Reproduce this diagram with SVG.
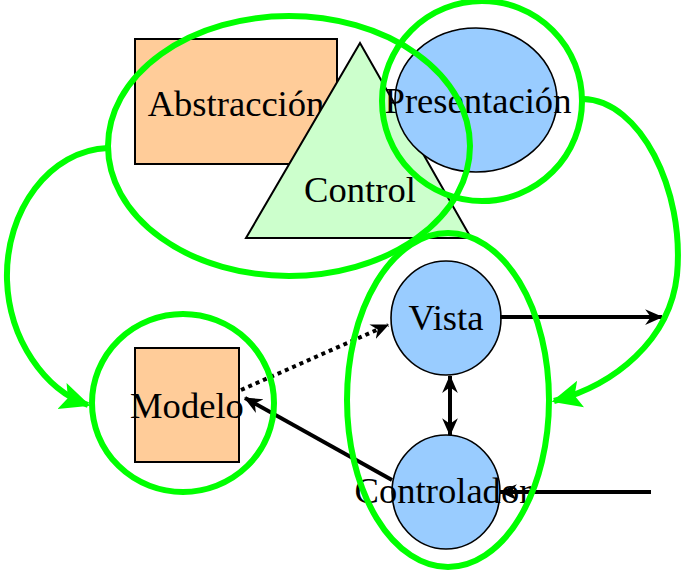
<svg xmlns="http://www.w3.org/2000/svg" width="684" height="573" viewBox="0 0 684 573">
<defs>
<style>
.lbl{font-family:"Liberation Serif","Times New Roman",serif;font-size:36.6px;fill:#000;text-anchor:middle}
.box{fill:#FFCC99;stroke:#000;stroke-width:2}
.blue{fill:#99CCFF;stroke:#000;stroke-width:1.6}
.tri{fill:#CCFFCC;stroke:#000;stroke-width:2}
.grp{fill:none;stroke:#00FF00;stroke-width:6}
.gcurve{fill:none;stroke:#00FF00;stroke-width:6}
.blk{fill:none;stroke:#000;stroke-width:4}
.dot{fill:none;stroke:#000;stroke-width:4;stroke-dasharray:4 4}
</style>
<marker id="ga" markerUnits="userSpaceOnUse" markerWidth="30" markerHeight="30" viewBox="0 0 24 22" refX="22" refY="11" orient="auto">
<path d="M0,0 L24,11 L0,22 L5,11 z" fill="#00FF00"/>
</marker>
<marker id="ba" markerUnits="userSpaceOnUse" markerWidth="18" markerHeight="18" viewBox="0 0 16 14" refX="15" refY="7" orient="auto">
<path d="M0,0 L16,7 L0,14 L5,7 z" fill="#000"/>
</marker>
<marker id="bs" markerUnits="userSpaceOnUse" markerWidth="18" markerHeight="18" viewBox="0 0 16 14" refX="1" refY="7" orient="auto">
<path d="M16,0 L0,7 L16,14 L11,7 z" fill="#000"/>
</marker>
</defs>
<g id="abstraccion">
<rect class="box" x="135" y="39" width="202" height="125"/>
<text class="lbl" x="236" y="116">Abstracción</text>
</g>
<g id="control">
<polygon class="tri" points="360,43 246,238 471,238"/>
<text class="lbl" x="360" y="202">Control</text>
</g>
<g id="presentacion">
<ellipse class="blue" cx="476" cy="100" rx="81" ry="72"/>
<text class="lbl" x="478" y="113">Presentación</text>
</g>
<g id="modelo">
<rect class="box" x="135" y="348" width="104" height="114"/>
<text class="lbl" x="187" y="418">Modelo</text>
</g>
<g id="vista">
<ellipse class="blue" cx="446" cy="318" rx="55" ry="57"/>
<text class="lbl" x="446" y="330">Vista</text>
</g>
<g id="controlador">
<ellipse class="blue" cx="446" cy="492" rx="54" ry="57"/>
<text class="lbl" x="443" y="503">Controlador</text>
</g>
<g id="connectors">
<line class="dot" x1="241" y1="390" x2="388" y2="325" marker-end="url(#ba)"/>
<line class="blk" x1="392" y1="480" x2="245" y2="398" marker-end="url(#ba)"/>
<line class="blk" x1="500" y1="317" x2="662" y2="317" marker-end="url(#ba)"/>
<line class="blk" x1="450" y1="376" x2="450" y2="435" marker-start="url(#bs)" marker-end="url(#ba)"/>
<line class="blk" x1="651" y1="492" x2="500" y2="492" marker-end="url(#ba)"/>
<path class="gcurve" d="M583,99 C640,100 685,190 677,275 C670,340 615,385 554,401" marker-end="url(#ga)"/>
<path class="gcurve" d="M108,148 C50,150 5,210 7,280 C9,340 45,390 88,405" marker-end="url(#ga)"/>
</g>
<g id="groups">
<ellipse class="grp" cx="289" cy="146" rx="181" ry="130"/>
<circle class="grp" cx="482" cy="101" r="100"/>
<ellipse class="grp" cx="183" cy="403" rx="91" ry="89"/>
<ellipse class="grp" cx="448" cy="400" rx="101" ry="167"/>
</g>
</svg>
